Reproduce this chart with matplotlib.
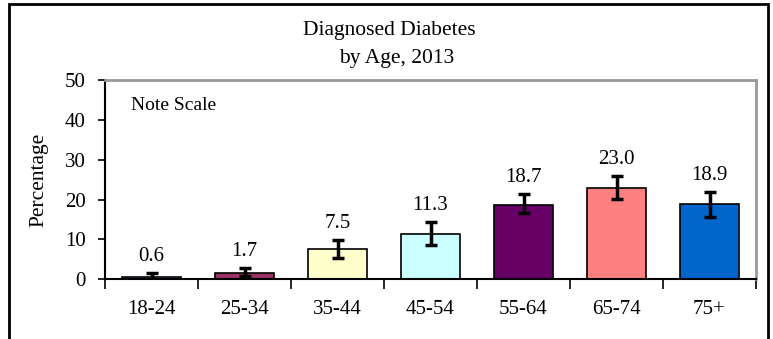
import matplotlib
matplotlib.use("Agg")
import matplotlib.pyplot as plt
from matplotlib.patches import Rectangle

# diagnosed diabetes by age group, 2013 (percent, with 95% CI)
ages = ["18-24", "25-34", "35-44", "45-54", "55-64", "65-74", "75+"]
values = [0.6, 1.7, 7.5, 11.3, 18.7, 23.0, 18.9]
err_low = [0.9, 0.9, 2.2, 2.7, 2.1, 2.9, 3.2]
err_high = [0.9, 1.1, 2.4, 3.2, 2.7, 3.0, 3.1]
colors = ["#9999FF", "#993366", "#FFFFCC", "#CCFFFF", "#660066", "#FF8080", "#0066CC"]

plt.rcParams["font.family"] = ["Liberation Serif", "DejaVu Serif"]
plt.rcParams["font.size"] = 15

fig = plt.figure(figsize=(7.73, 3.39), dpi=100)
ax = fig.add_axes([105 / 773, 1 - 279.3 / 339, 651 / 773, 199.3 / 339])

x = [i + 0.5 for i in range(len(ages))]
ax.bar(x, values, width=0.63, color=colors, edgecolor="black", linewidth=1.2, zorder=2)
ax.errorbar(x, values, yerr=[err_low, err_high], fmt="none", ecolor="black",
            elinewidth=2.5, capsize=4.5, capthick=2.5, zorder=3)

# value labels above the error bars
for xi, v, eh in zip(x, values, err_high):
    ax.annotate(f"{v:.1f}", (xi, v + eh), xytext=(0, 5), textcoords="offset points",
                ha="center", va="bottom", fontsize=15)

ax.set_xlim(0, 7)
ax.set_ylim(0, 50)
ax.set_yticks(range(0, 51, 10))
ax.set_xticks(range(0, 8))
ax.set_xticklabels([])
ax.set_xticks(x, minor=True)
ax.set_xticklabels(ages, minor=True)
ax.tick_params(axis="x", which="minor", length=0, pad=15)
ax.tick_params(axis="x", which="major", direction="out", length=7, width=1.2)
ax.tick_params(axis="y", direction="out", length=5, width=1.2, pad=9)

for s in ["left", "bottom"]:
    ax.spines[s].set_color("black")
    ax.spines[s].set_linewidth(1.5)
for s in ["top", "right"]:
    ax.spines[s].set_color("#999999")
    ax.spines[s].set_linewidth(2)

ax.set_ylabel("Percentage", fontsize=15.5, labelpad=12)
ax.text(0.04, 0.87, "Note Scale", transform=ax.transAxes, fontsize=14, va="center")

fig.text(0.503, 1 - 30 / 339, "Diagnosed Diabetes", ha="center", va="center", fontsize=15.5)
fig.text(0.513, 1 - 58 / 339, "by Age, 2013", ha="center", va="center", fontsize=15.5)

# outer frame (bottom edge runs off the image)
fig.patches.append(Rectangle((9 / 773, -0.1), 759 / 773, 1.1 - 4 / 339,
                             transform=fig.transFigure, fill=False,
                             edgecolor="black", linewidth=2))

fig.savefig("out.png", dpi=100)
